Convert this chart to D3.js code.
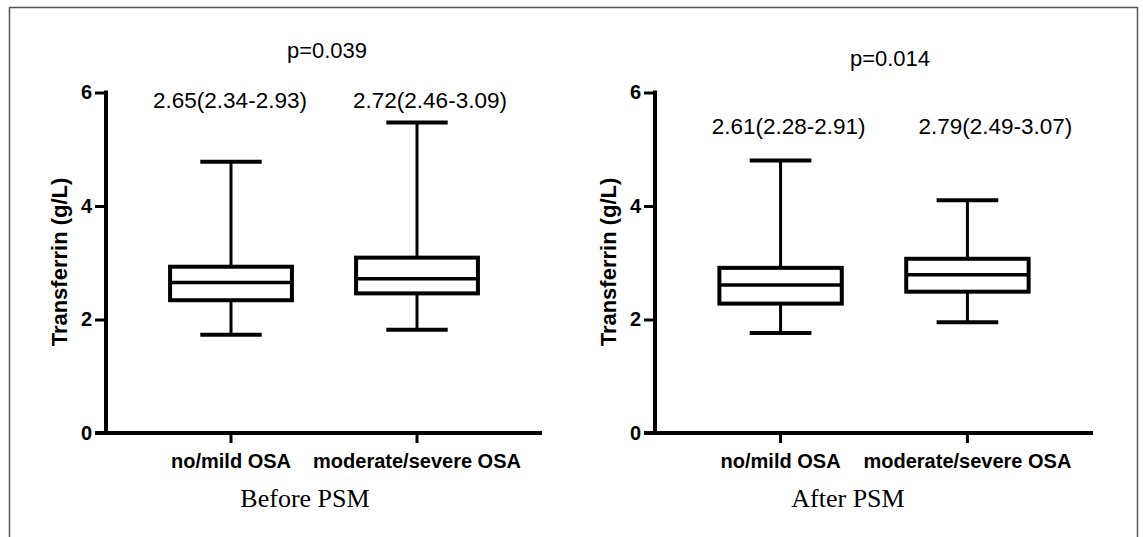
<!DOCTYPE html>
<html>
<head>
<meta charset="utf-8">
<script src="https://cdn.jsdelivr.net/npm/d3@7"></script>
<style>
  body { margin: 0; background: #fff; }
  svg { display: block; font-family: "Liberation Sans", Arial, sans-serif; }
</style>
</head>
<body>
<div id="chart"></div>
<script>
// groups on the x axis
var groups = ["no/mild OSA", "moderate/severe OSA"]
var yTicks = [0, 2, 4, 6]

// before PSM
var beforeMin = [1.73, 1.82]
var beforeQ1 = [2.34, 2.46]
var beforeMed = [2.65, 2.72]
var beforeQ3 = [2.93, 3.09]
var beforeMax = [4.78, 5.47]
var beforeP = "p=0.039"

// after PSM
var afterMin = [1.76, 1.95]
var afterQ1 = [2.28, 2.49]
var afterMed = [2.61, 2.79]
var afterQ3 = [2.91, 3.07]
var afterMax = [4.80, 4.10]
var afterP = "p=0.014"

var width = 1143
var height = 537

var svg = d3.select("#chart").append("svg")
  .attr("width", width)
  .attr("height", height)

// thin frame round the figure, bottom runs off the page
svg.append("path")
  .attr("d", "M9.5," + (height + 2) + "V7.5H1137.5V" + (height + 2))
  .attr("fill", "none")
  .attr("stroke", "#555")
  .attr("stroke-width", 1.5)

function drawPanel(opt) {
  var g = svg.append("g")
  var rows = groups.map(function (name, i) {
    return {name: name, min: opt.min[i], q1: opt.q1[i], med: opt.med[i], q3: opt.q3[i], max: opt.max[i]}
  })

  var x = d3.scaleBand()
    .domain(groups)
    .range([opt.left, opt.right])
    .paddingInner(0)
    .paddingOuter(0.172)

  var y = d3.scaleLinear()
    .domain([0, 6])
    .range([433, 92.5])

  var step = x.step()
  var boxW = step * 0.655
  var capW = step * 0.33

  // y axis
  var ya = g.append("g")
    .attr("transform", "translate(" + opt.left + ",0)")
    .call(d3.axisLeft(y).tickValues(yTicks).tickSize(11).tickPadding(3).tickFormat(d3.format("d")))
  ya.select(".domain").attr("d", "M0," + y(6) + "V" + y(0)).attr("stroke-width", 4).attr("stroke-linecap", "square")
  ya.selectAll(".tick line").attr("stroke-width", 3)
  ya.selectAll(".tick text")
    .attr("font-size", "20px")
    .attr("font-weight", "bold")
    .attr("font-family", "'Liberation Sans', Arial, sans-serif")
    .attr("fill", "#000")

  // x axis
  var xa = g.append("g")
    .attr("transform", "translate(0," + y(0) + ")")
    .call(d3.axisBottom(x).tickSize(10).tickPadding(11))
  xa.select(".domain").attr("d", "M" + (opt.left - 11) + ",0H" + opt.right).attr("stroke-width", 4)
  xa.selectAll(".tick line").attr("stroke-width", 3)
  xa.selectAll(".tick text")
    .attr("font-size", "20px")
    .attr("font-weight", "bold")
    .attr("font-family", "'Liberation Sans', Arial, sans-serif")
    .attr("fill", "#000")

  var cx = function (d) { return x(d.name) + step / 2 }

  // whiskers
  g.selectAll(".whisker")
    .data(rows)
    .join("line")
    .attr("class", "whisker")
    .attr("x1", cx).attr("x2", cx)
    .attr("y1", function (d) { return y(d.max) })
    .attr("y2", function (d) { return y(d.min) })
    .attr("stroke", "#000")
    .attr("stroke-width", 3)

  // caps
  ;["min", "max"].forEach(function (k) {
    g.selectAll(".cap-" + k)
      .data(rows)
      .join("line")
      .attr("class", "cap-" + k)
      .attr("x1", function (d) { return cx(d) - capW / 2 })
      .attr("x2", function (d) { return cx(d) + capW / 2 })
      .attr("y1", function (d) { return y(d[k]) })
      .attr("y2", function (d) { return y(d[k]) })
      .attr("stroke", "#000")
      .attr("stroke-width", 4)
  })

  // boxes
  g.selectAll(".box")
    .data(rows)
    .join("rect")
    .attr("class", "box")
    .attr("x", function (d) { return cx(d) - boxW / 2 })
    .attr("y", function (d) { return y(d.q3) })
    .attr("width", boxW)
    .attr("height", function (d) { return y(d.q1) - y(d.q3) })
    .attr("fill", "#fff")
    .attr("stroke", "#000")
    .attr("stroke-width", 4)

  g.selectAll(".median")
    .data(rows)
    .join("line")
    .attr("class", "median")
    .attr("x1", function (d) { return cx(d) - boxW / 2 })
    .attr("x2", function (d) { return cx(d) + boxW / 2 })
    .attr("y1", function (d) { return y(d.med) })
    .attr("y2", function (d) { return y(d.med) })
    .attr("stroke", "#000")
    .attr("stroke-width", 3.5)

  // median (IQR) labels
  g.selectAll(".stat")
    .data(rows)
    .join("text")
    .attr("class", "stat")
    .attr("x", function (d, i) { return cx(d) + opt.statDx[i] })
    .attr("y", opt.statY)
    .attr("text-anchor", "middle")
    .attr("font-size", "22.5px")
    .text(function (d) { return d.med.toFixed(2) + "(" + d.q1.toFixed(2) + "-" + d.q3.toFixed(2) + ")" })

  g.append("text")
    .attr("x", opt.pX)
    .attr("y", opt.pY)
    .attr("text-anchor", "middle")
    .attr("font-size", "22px")
    .text(opt.p)

  // y title
  g.append("text")
    .attr("transform", "translate(" + (opt.left - 47) + ",262) rotate(-90)")
    .attr("text-anchor", "middle")
    .attr("dy", "0.35em")
    .attr("font-size", "22px")
    .attr("font-weight", "bold")
    .text("Transferrin (g/L)")

  // panel caption
  g.append("text")
    .attr("x", opt.capX)
    .attr("y", 507)
    .attr("text-anchor", "middle")
    .attr("font-family", "'Liberation Serif', 'Times New Roman', serif")
    .attr("font-size", "26px")
    .text(opt.caption)
}

drawPanel({
  left: 106, right: 542,
  min: beforeMin, q1: beforeQ1, med: beforeMed, q3: beforeQ3, max: beforeMax,
  p: beforeP, pX: 327, pY: 58,
  statDx: [-1, 13], statY: 108,
  caption: "Before PSM", capX: 305
})

drawPanel({
  left: 655, right: 1093,
  min: afterMin, q1: afterQ1, med: afterMed, q3: afterQ3, max: afterMax,
  p: afterP, pX: 890, pY: 66,
  statDx: [8, 28], statY: 134,
  caption: "After PSM", capX: 848
})
</script>
</body>
</html>
